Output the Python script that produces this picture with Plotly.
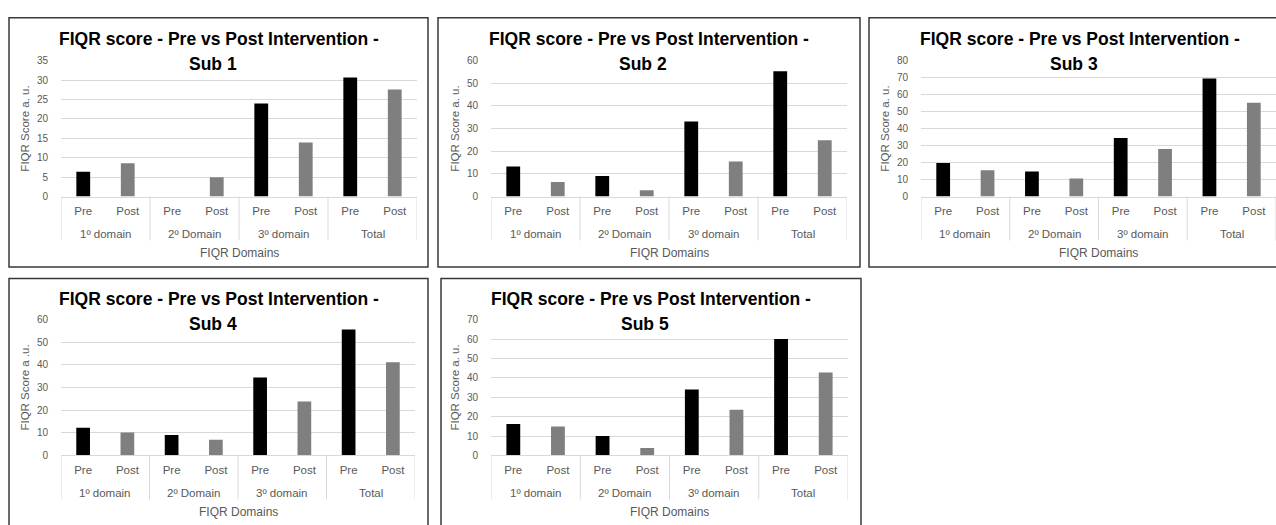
import plotly.graph_objects as go

# ---- data -------------------------------------------------------------
domains = ["1º domain", "2º Domain", "3º domain", "Total"]
phases = ["Pre", "Post"]

sub1_pre = [6.4, 0.0, 24.0, 30.7]
sub1_post = [8.6, 5.0, 13.9, 27.6]

sub2_pre = [13.3, 9.1, 33.2, 55.3]
sub2_post = [6.4, 2.8, 15.5, 24.9]

sub3_pre = [19.7, 14.8, 34.5, 69.5]
sub3_post = [15.5, 10.7, 28.0, 55.2]

sub4_pre = [12.2, 9.1, 34.4, 55.6]
sub4_post = [10.1, 7.0, 23.9, 41.2]

sub5_pre = [16.2, 10.1, 34.0, 60.0]
sub5_post = [15.0, 3.8, 23.6, 42.8]

subjects = ["Sub 1", "Sub 2", "Sub 3", "Sub 4", "Sub 5"]
y_titles = ["FIQR Score a. u.", "FIQR Score a. u.", "FIQR Score a. u.",
            "FIQR Score a .u.", "FIQR Score a. u."]
y_max = [35, 60, 80, 60, 70]
y_step = [5, 10, 10, 10, 10]

pre_values = [sub1_pre, sub2_pre, sub3_pre, sub4_pre, sub5_pre]
post_values = [sub1_post, sub2_post, sub3_post, sub4_post, sub5_post]

# one category slot per (domain, phase) pair, in display order
slot_keys = [f"{d}|{p}" for d in domains for p in phases]
slot_text = [p for d in domains for p in phases]
pre_keys = [f"{d}|{phases[0]}" for d in domains]
post_keys = [f"{d}|{phases[1]}" for d in domains]

# ---- layout geometry (pixels in a 1276 x 525 page) ---------------------
W, H = 1276, 525


def fx(p):
    return p / W


def fy(p):
    return 1 - p / H


# frame box (x0, y0, x1, y1) and plot area (x0, y0, x1, y1)
frames = [(9, 12, 428, 267), (438, 12, 860, 267), (869, 12, 1290, 267),
          (9, 279, 428, 540), (441, 279, 861, 540)]
areas = [(61, 56, 417, 195), (491, 56, 847, 195), (921, 56, 1276, 195),
         (61, 321, 415, 460), (491, 321, 848, 460)]
title_rows = [(34, 59), (34, 59), (34, 59), (300, 325), (300, 325)]

PRE_COLOR = "#000000"
POST_COLOR = "#7f7f7f"
GRID = "#d9d9d9"
TEXT = "#595959"
FONT = "Liberation Sans, Arial, sans-serif"

fig = go.Figure()
shapes = []
annotations = []
n_phase = len(phases)

for i in range(5):
    xa = "x" if i == 0 else f"x{i + 1}"
    ya = "y" if i == 0 else f"y{i + 1}"
    xkey = "xaxis" if i == 0 else f"xaxis{i + 1}"
    ykey = "yaxis" if i == 0 else f"yaxis{i + 1}"

    fig.add_trace(go.Bar(
        x=pre_keys, y=pre_values[i],
        marker=dict(color=PRE_COLOR, line=dict(width=0)), width=0.31,
        name="Pre", showlegend=False, xaxis=xa, yaxis=ya))
    fig.add_trace(go.Bar(
        x=post_keys, y=post_values[i],
        marker=dict(color=POST_COLOR, line=dict(width=0)), width=0.31,
        name="Post", showlegend=False, xaxis=xa, yaxis=ya))

    ax0, ay0, ax1, ay1 = areas[i]
    fig.layout[xkey] = dict(
        domain=[fx(ax0), fx(ax1)], anchor=ya, type="category",
        categoryorder="array", categoryarray=slot_keys,
        tickvals=slot_keys, ticktext=slot_text,
        range=[-0.5, len(slot_keys) - 0.5],
        showline=True, linecolor=GRID, linewidth=1,
        ticks="", showgrid=False, zeroline=False,
        ticklabelstandoff=4,
        tickfont=dict(family=FONT, size=11.5, color=TEXT),
    )
    fig.layout[ykey] = dict(
        domain=[fy(ay1), fy(ay0)], anchor=xa,
        range=[0, y_max[i]], dtick=y_step[i], tick0=0,
        showgrid=True, gridcolor=GRID, gridwidth=1,
        zeroline=False, showline=False, ticks="",
        ticklabelstandoff=12,
        tickfont=dict(family=FONT, size=10, color=TEXT),
    )

    # group dividers and group labels under the category axis
    for j in range(len(domains) + 1):
        xd = j * n_phase - 0.5
        shapes.append(dict(type="line", xref=xa, yref="paper",
                           x0=xd, x1=xd, y0=fy(ay1), y1=fy(ay1 + 45),
                           line=dict(color=GRID, width=1)))
    for j, d in enumerate(domains):
        annotations.append(dict(
            text=d, xref=xa, yref="paper",
            x=j * n_phase + (n_phase - 1) / 2, y=fy(ay1 + 38),
            xanchor="center", yanchor="middle", showarrow=False,
            font=dict(family=FONT, size=11.5, color=TEXT)))

    fx0, fy0, fx1, fy1 = frames[i]
    shapes.append(dict(type="rect", xref="paper", yref="paper",
                       x0=fx(fx0), x1=fx(fx1), y0=fy(fy1), y1=fy(fy0),
                       line=dict(color="#3a3a3a", width=1.5),
                       fillcolor="rgba(0,0,0,0)", layer="below"))

    cx = (fx0 + fx1) / 2
    t1, t2 = title_rows[i]
    annotations.append(dict(
        text="<b>FIQR score - Pre vs Post Intervention -</b>",
        x=fx(cx), y=fy(t1), xref="paper", yref="paper",
        xanchor="center", yanchor="middle", showarrow=False,
        font=dict(family=FONT, size=17.5, color="#000000")))
    annotations.append(dict(
        text=f"<b>{subjects[i]}</b>",
        x=fx(cx), y=fy(t2), xref="paper", yref="paper", xshift=-6,
        xanchor="center", yanchor="middle", showarrow=False,
        font=dict(family=FONT, size=17.5, color="#000000")))

    annotations.append(dict(
        text=y_titles[i], textangle=-90,
        x=fx(ax0 - 36), y=fy((ay0 + ay1) / 2), xref="paper", yref="paper",
        xanchor="center", yanchor="middle", showarrow=False,
        font=dict(family=FONT, size=11.5, color=TEXT)))
    annotations.append(dict(
        text="FIQR Domains",
        x=fx((ax0 + ax1) / 2), y=fy(ay1 + 58), xref="paper", yref="paper",
        xanchor="center", yanchor="middle", showarrow=False,
        font=dict(family=FONT, size=12, color=TEXT)))

fig.update_layout(
    width=W, height=H,
    margin=dict(l=0, r=0, t=0, b=0),
    paper_bgcolor="white", plot_bgcolor="white",
    barmode="overlay",
    shapes=shapes, annotations=annotations,
    font=dict(family=FONT, color=TEXT),
)

fig.write_html("out.html", config={"displayModeBar": False})
